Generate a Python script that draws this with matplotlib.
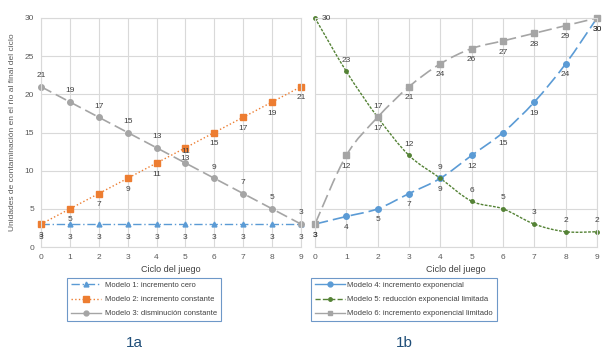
import matplotlib.pyplot as plt
from matplotlib.path import Path
from matplotlib.patches import PathPatch
from matplotlib.lines import Line2D
import numpy as np

plt.rcParams.update({"font.size": 6, "font.family": "Liberation Sans"})

ciclo = np.arange(10)

m1 = [3, 3, 3, 3, 3, 3, 3, 3, 3, 3]
m2 = [3, 5, 7, 9, 11, 13, 15, 17, 19, 21]
m3 = [21, 19, 17, 15, 13, 11, 9, 7, 5, 3]
m4 = [3, 4, 5, 7, 9, 12, 15, 19, 24, 30]
m5 = [30, 23, 17, 12, 9, 6, 5, 3, 2, 2]
m6 = [3, 12, 17, 21, 24, 26, 27, 28, 29, 30]

labels_a = ["Modelo 1: incremento cero", "Modelo 2: incremento constante",
            "Modelo 3: disminución constante"]
labels_b = ["Modelo 4: incremento exponencial",
            "Modelo 5: reducción exponencial limitada",
            "Modelo 6: incremento exponencial limitado"]

blue = "#5b9bd5"
orange = "#ed7d31"
gray = "#a5a5a5"
green = "#548235"
txtgray = "#595959"


def smooth_path(x, y):
    # Catmull-Rom curve as cubic Bezier segments (Excel "smoothed line")
    x = np.asarray(x, float)
    y = np.asarray(y, float)
    verts = [(x[0], y[0])]
    codes = [Path.MOVETO]
    n = len(x)
    for i in range(n - 1):
        p0 = np.array([x[max(i - 1, 0)], y[max(i - 1, 0)]])
        p1 = np.array([x[i], y[i]])
        p2 = np.array([x[i + 1], y[i + 1]])
        p3 = np.array([x[min(i + 2, n - 1)], y[min(i + 2, n - 1)]])
        c1 = p1 + (p2 - p0) / 6
        c2 = p2 - (p3 - p1) / 6
        verts += [tuple(c1), tuple(c2), tuple(p2)]
        codes += [Path.CURVE4] * 3
    return Path(verts, codes)


def style_ax(ax, show_y):
    ax.set_xlim(0, 9)
    ax.set_ylim(0, 30)
    ax.set_xticks(range(10))
    ax.set_yticks(range(0, 31, 5))
    ax.grid(True, color="#d9d9d9", lw=0.8)
    ax.set_axisbelow(True)
    for s in ax.spines.values():
        s.set_color("#d9d9d9")
    ax.tick_params(length=0, colors=txtgray, labelsize=6, pad=5)
    if not show_y:
        ax.set_yticklabels([])
    ax.set_xlabel("Ciclo del juego", color="#404040", fontsize=6.5, labelpad=3)


def labels(ax, y, pos, dy=1.2):
    for i, v in enumerate(y):
        if pos == "above":
            ax.text(i, v + dy, str(v), ha="center", va="bottom", fontsize=6, color="#404040")
        elif pos == "below":
            ax.text(i, v - dy, str(v), ha="center", va="top", fontsize=6, color="#404040")


fig = plt.figure(figsize=(6.03, 3.54), dpi=100)
ax1 = fig.add_axes([41 / 603, 1 - 247 / 354, 260 / 603, 229 / 354])
ax2 = fig.add_axes([315 / 603, 1 - 247 / 354, 282 / 603, 229 / 354])

# --- 1a
style_ax(ax1, True)
ax1.set_ylabel("Unidades de contaminación en el río al final del ciclo",
               color=txtgray, fontsize=6, labelpad=6)
ax1.plot(ciclo, m1, color=blue, ls=(0, (6, 2, 1, 2)), lw=1, marker="^", ms=3.5, clip_on=False)
ax1.plot(ciclo, m2, color=orange, ls=":", lw=1, marker="s", ms=4, clip_on=False)
ax1.plot(ciclo, m3, color=gray, ls=(0, (7, 3)), lw=1.2, marker="o", ms=4, clip_on=False)
labels(ax1, m1, "below", 1.3)
labels(ax1, m2, "below", 1.0)
labels(ax1, m3, "above", 1.0)

h1 = [Line2D([], [], color=blue, ls=(0, (6, 2, 1, 2)), lw=1, marker="^", ms=3.5),
      Line2D([], [], color=orange, ls=":", lw=1, marker="s", ms=5),
      Line2D([], [], color=gray, lw=1, marker="o", ms=3.5)]
leg1 = fig.legend(h1, labels_a, loc="upper left", bbox_to_anchor=(63 / 603, 1 - 274 / 354),
                  fontsize=5.5, frameon=True, fancybox=False, handlelength=4,
                  borderpad=0.5, labelspacing=0.9, handletextpad=0.5)
leg1.get_frame().set_edgecolor("#4a7ebb")
leg1.get_frame().set_linewidth(0.8)
for t in leg1.get_texts():
    t.set_color("#404040")

# --- 1b
style_ax(ax2, False)
for y, c, ls, mk, ms in [(m4, blue, (0, (8, 3)), "o", 4),
                         (m5, green, (0, (2, 1)), "o", 2.5),
                         (m6, gray, (0, (8, 3)), "s", 4)]:
    ax2.add_patch(PathPatch(smooth_path(ciclo, y), fill=False, edgecolor=c,
                            ls=ls, lw=1.2 if c != green else 1, clip_on=False))
    ax2.plot(ciclo, y, ls="none", marker=mk, ms=ms, color=c, clip_on=False)
labels(ax2, m4, "below", 1.0)
for i, v in enumerate(m5):
    if i == 0:
        ax2.text(0.2, v, str(v), ha="left", va="center", fontsize=6, color="#404040")
    else:
        ax2.text(i, v + 1.0, str(v), ha="center", va="bottom", fontsize=6, color="#404040")
labels(ax2, m6, "below", 1.0)

h2 = [Line2D([], [], color=blue, lw=1, marker="o", ms=3.5),
      Line2D([], [], color=green, ls="--", lw=1, marker="o", ms=2.5),
      Line2D([], [], color=gray, lw=1, marker="s", ms=3.5)]
leg2 = fig.legend(h2, labels_b, loc="upper left", bbox_to_anchor=(307 / 603, 1 - 274 / 354),
                  fontsize=5.5, frameon=True, fancybox=False, handlelength=4,
                  borderpad=0.5, labelspacing=0.9, handletextpad=0.3)
leg2.get_frame().set_edgecolor("#4a7ebb")
leg2.get_frame().set_linewidth(0.8)
for t in leg2.get_texts():
    t.set_color("#404040")

fig.text(134 / 603, 1 - 343 / 354, "1a", ha="center", va="center", fontsize=11, color="#1f4e79")
fig.text(404 / 603, 1 - 343 / 354, "1b", ha="center", va="center", fontsize=11, color="#1f4e79")

fig.savefig("out.png", dpi=100)
